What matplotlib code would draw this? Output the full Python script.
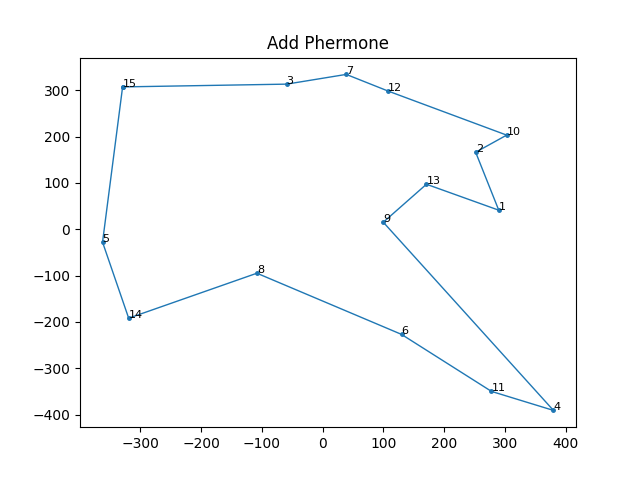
import numpy as np
import matplotlib
matplotlib.use('Agg')
import matplotlib.pyplot as plt

# tour order and city coordinates
order = [15, 3, 7, 12, 10, 2, 1, 13, 9, 4, 11, 6, 8, 14, 5, 15]
xs = [-329, -59, 39, 108, 303, 252, 290, 171, 100, 380, 278, 130, -108, -319, -362, -329]
ys = [307, 313, 334, 298, 203, 166, 41, 97, 15, -391, -350, -227, -95, -192, -28, 307]

plt.figure(figsize=(6.4, 4.8))
plt.plot(xs, ys, marker='.', markersize=5, linewidth=1)
for n, x, y in zip(order[:-1], xs[:-1], ys[:-1]):
    plt.text(x, y, str(n), fontsize=8)
plt.title('Add Phermone')
plt.savefig('out.png', dpi=100)
